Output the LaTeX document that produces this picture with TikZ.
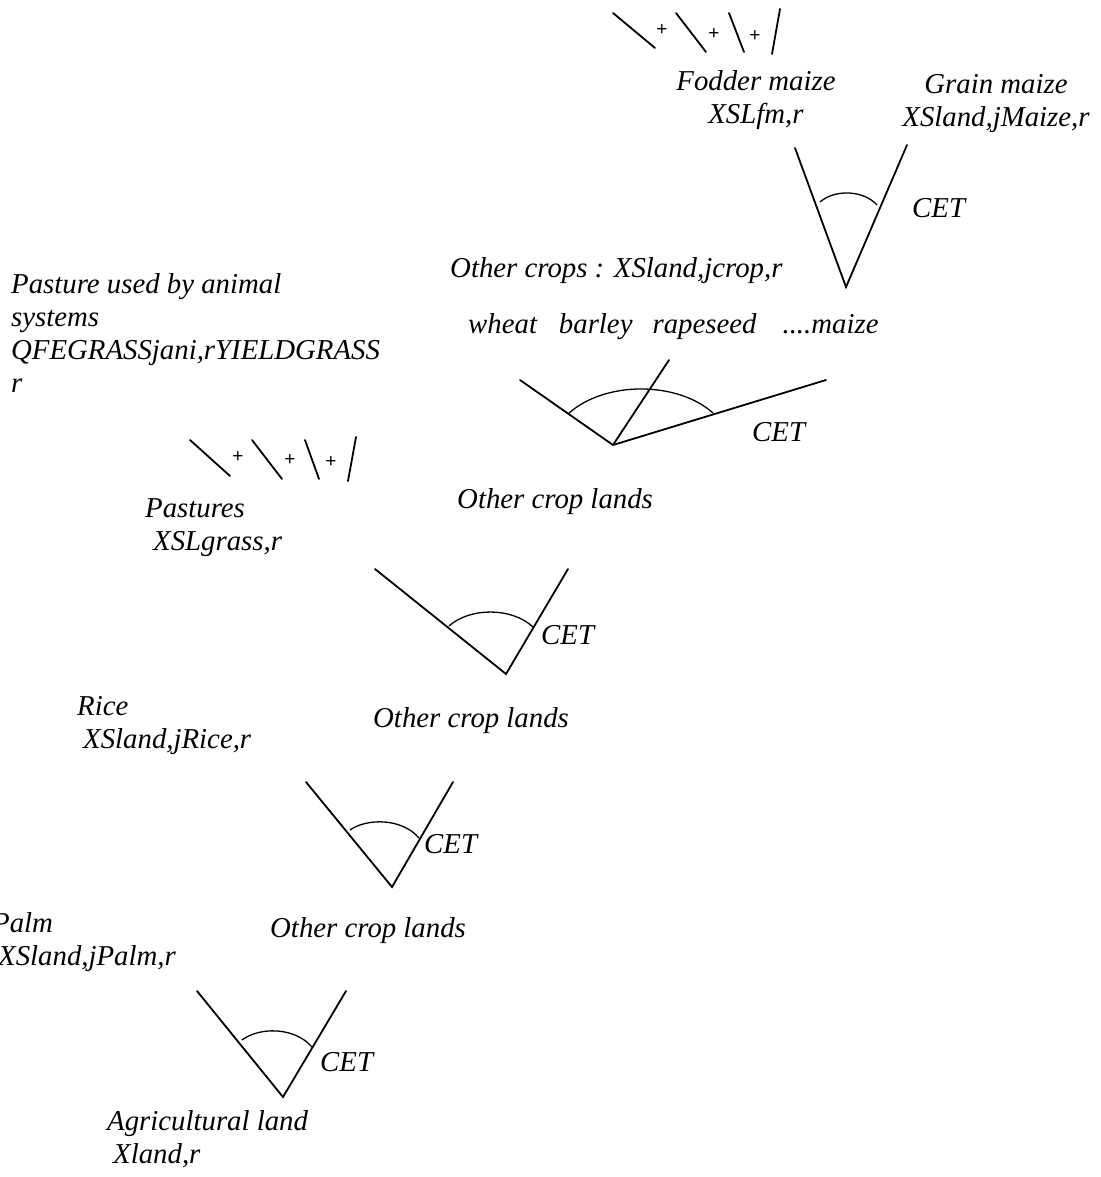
\documentclass[tikz,border=0pt]{standalone}
\usepackage{fontspec}
\setmainfont{Liberation Serif}
\newfontfamily\plusfont{Liberation Sans}
\begin{document}
\begin{tikzpicture}[x=1pt,y=-1pt,
  lbl/.style={inner sep=0pt, anchor=base west, align=left, font=\itshape\fontsize{28.8}{33}\selectfont},
  clbl/.style={inner sep=0pt, anchor=base, align=center, font=\itshape\fontsize{28.8}{33}\selectfont},
  cet/.style={inner sep=0pt, anchor=base west, font=\itshape\fontsize{28.8}{33}\selectfont},
  plus/.style={inner sep=0pt, font=\plusfont\fontsize{19}{19}\selectfont},
  branch/.style={line width=1.8pt, line cap=round},
  arcline/.style={line width=1.3pt}]
\useasboundingbox (0,0) rectangle (1100,1177);

% ---------- level 1: fodder maize / grain maize ----------
\node[clbl] (fm) at (756,124) {Fodder maize\\XSLfm,r};
\node[clbl] (gm) at (996,127) {Grain maize\\XSland,jMaize,r};
\coordinate (fmEnd) at (795,148);
\coordinate (gmEnd) at (907,145);
\coordinate (maizeApex) at (846,287);
\draw[branch] (fmEnd) -- (maizeApex) -- (gmEnd);
\draw[arcline] (820,202) .. controls (834,189.5) and (863,189.5) .. (877,205);
\node[cet] (cet1) at (912,217) {CET};

% plus-lines above fodder maize
\coordinate (fa1) at (613,13); \coordinate (fb1) at (655,48);
\coordinate (fa2) at (676,13); \coordinate (fb2) at (706,52);
\coordinate (fa3) at (729,13); \coordinate (fb3) at (744,52);
\coordinate (fa4) at (780,9);  \coordinate (fb4) at (772,54);
\draw[branch] (fa1) -- (fb1);
\draw[branch] (fa2) -- (fb2);
\draw[branch] (fa3) -- (fb3);
\draw[branch] (fa4) -- (fb4);
\node[plus] (fp1) at (662,30) {+};
\node[plus] (fp2) at (714,34) {+};
\node[plus] (fp3) at (755,36) {+};

% ---------- level 2: other crops ----------
\node[lbl] (oc) at (450,277) {Other crops : XSland,jcrop,r};
\node[lbl] (crops) at (468,333) {wheat\hspace{22pt}barley\hspace{20pt}rapeseed\hspace{26pt}....maize};
\coordinate (wheatEnd) at (520,380);
\coordinate (rapeEnd) at (669,360);
\coordinate (maizeEnd) at (826,380);
\coordinate (ocApex) at (613,445);
\draw[branch] (wheatEnd) -- (ocApex) -- (maizeEnd);
\draw[branch] (rapeEnd) -- (ocApex);
\draw[arcline] (568,414) .. controls (604,380.8) and (677,380.8) .. (713,413);
\node[cet] (cet2) at (752,441) {CET};
\node[lbl] (ocl1) at (457,508) {Other crop lands};

% ---------- pasture ----------
\node[lbl] (pau) at (11,392) {Pasture used by animal\\systems\\QFEGRASSjani,rYIELDGRASS\\r};
\coordinate (pa1) at (190,440); \coordinate (pb1) at (230,476);
\coordinate (pa2) at (252,440); \coordinate (pb2) at (282,479);
\coordinate (pa3) at (305,440); \coordinate (pb3) at (319,479);
\coordinate (pa4) at (356,437); \coordinate (pb4) at (348,481);
\draw[branch] (pa1) -- (pb1);
\draw[branch] (pa2) -- (pb2);
\draw[branch] (pa3) -- (pb3);
\draw[branch] (pa4) -- (pb4);
\node[plus] (pp1) at (238,457) {+};
\node[plus] (pp2) at (290,460) {+};
\node[plus] (pp3) at (331,462) {+};
\node[lbl] (past) at (145,550) {Pastures\\\hspace{8pt}XSLgrass,r};

\coordinate (pastEnd) at (375,569);
\coordinate (ocl1End) at (568,569);
\coordinate (apex3) at (506,674);
\draw[branch] (pastEnd) -- (apex3) -- (ocl1End);
\draw[arcline] (449,626) .. controls (470,607.2) and (512,607.2) .. (533,627);
\node[cet] (cet3) at (541,644) {CET};
\node[lbl] (ocl2) at (373,727) {Other crop lands};

% ---------- rice ----------
\node[lbl] (rice) at (77,748) {Rice\\\hspace{6pt}XSland,jRice,r};
\coordinate (riceEnd) at (306,782);
\coordinate (ocl2End) at (453,782);
\coordinate (apex4) at (392,887);
\draw[branch] (riceEnd) -- (apex4) -- (ocl2End);
\draw[arcline] (350,830) .. controls (367,818) and (402,818) .. (419,838);
\node[cet] (cet4) at (424,853) {CET};
\node[lbl] (ocl3) at (270,937) {Other crop lands};

% ---------- palm ----------
\node[lbl] (palm) at (-8,965) {Palm\\\hspace{6pt}XSland,jPalm,r};
\coordinate (palmEnd) at (197,991);
\coordinate (ocl3End) at (346,991);
\coordinate (apex5) at (283,1097);
\draw[branch] (palmEnd) -- (apex5) -- (ocl3End);
\draw[arcline] (242,1040) .. controls (259.5,1026.8) and (294.5,1026.8) .. (312,1047);
\node[cet] (cet5) at (320,1071) {CET};
\node[lbl] (agr) at (107,1163) {Agricultural land\\\hspace{6pt}Xland,r};
\end{tikzpicture}
\end{document}
